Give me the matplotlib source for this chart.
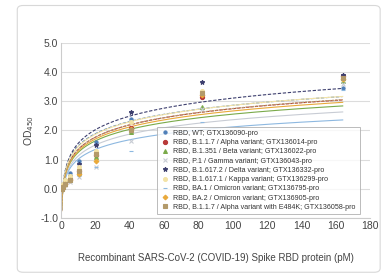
import numpy as np
import matplotlib
matplotlib.use('Agg')
import matplotlib.pyplot as plt
from matplotlib.patches import FancyBboxPatch

plt.rcParams['font.family'] = ['Liberation Sans Narrow', 'Liberation Sans', 'DejaVu Sans']

# two-fold dilution series of the RBD protein (pM)
conc = [164, 82, 41, 20.5, 10.25, 5.125, 2.5625, 1.28, 0.64, 0.32]

labels = [
    'RBD, WT; GTX136090-pro',
    'RBD, B.1.1.7 / Alpha variant; GTX136014-pro',
    'RBD, B.1.351 / Beta variant; GTX136022-pro',
    'RBD, P.1 / Gamma variant; GTX136043-pro',
    'RBD, B.1.617.2 / Delta variant; GTX136332-pro',
    'RBD, B.1.617.1 / Kappa variant; GTX136299-pro',
    'RBD, BA.1 / Omicron variant; GTX136795-pro',
    'RBD, BA.2 / Omicron variant; GTX136905-pro',
    'RBD, B.1.1.7 / Alpha variant with E484K; GTX136058-pro',
]

od_wt = [3.45, 3.3, 2.4, 1.6, 0.95, 0.55, 0.3, 0.15, 0.06, 0.02]
od_alpha = [3.85, 3.15, 2.1, 1.15, 0.6, 0.35, 0.2, 0.1, 0.05, 0.02]
od_beta = [3.7, 2.8, 1.95, 1.1, 0.55, 0.3, 0.16, 0.08, 0.03, 0.01]
od_gamma = [3.6, 2.75, 1.65, 0.75, 0.4, 0.22, 0.12, 0.05, 0.02, 0.0]
od_delta = [3.9, 3.65, 2.65, 1.5, 0.85, 0.45, 0.25, 0.12, 0.05, 0.02]
od_kappa = [3.75, 3.35, 2.3, 1.3, 0.75, 0.45, 0.3, 0.15, 0.08, 0.03]
od_ba1 = [3.4, 2.3, 1.3, 0.75, 0.45, 0.25, 0.12, 0.05, 0.02, 0.0]
od_ba2 = [3.75, 3.2, 2.05, 0.95, 0.5, 0.3, 0.15, 0.08, 0.03, 0.01]
od_e484k = [3.8, 3.3, 2.0, 1.2, 0.6, 0.3, 0.18, 0.08, 0.04, 0.01]

series = [od_wt, od_alpha, od_beta, od_gamma, od_delta, od_kappa, od_ba1, od_ba2, od_e484k]
colors = ['#4f7fb8', '#b83a3a', '#7aaa4a', '#c8ccd4', '#3d3f6e',
          '#f3e3a6', '#8db8e0', '#e9a93a', '#b39a6a']
markers = ['o', 'o', '^', 'x', '*', 'o', '_', 'D', 's']
msizes = [2.3, 3, 2.8, 2.8, 3.3, 2.8, 3.3, 2.4, 2.2]
styles = [(0, (3, 1.5)), (0, (3, 1)), '-', '-', (0, (3, 1.5)), '-', '-', '-', (0, (2, 1))]

fig = plt.figure(figsize=(3.84, 2.75), dpi=100)
fig.patches.append(FancyBboxPatch((0.045, 0.01), 0.945, 0.97,
                                  boxstyle='round,pad=0,rounding_size=0.015',
                                  transform=fig.transFigure, fc='white',
                                  ec='#d8d8d8', lw=0.8, zorder=-1))
ax = fig.add_axes([0.159, 0.207, 0.805, 0.637])
ax.patch.set_alpha(0)

x = np.array(conc)
xs = np.linspace(x.min(), x.max(), 300)
for y, c, m, ms, ls, lab in zip(series, colors, markers, msizes, styles, labels):
    y = np.array(y)
    a, b = np.polyfit(np.log(x), y, 1)
    ax.plot(xs, a * np.log(xs) + b, color=c, lw=0.8, ls=ls, zorder=2)
    ax.plot(x, y, ls='none', marker=m, ms=ms, color=c, mew=0.8, label=lab, zorder=3)

ax.set_xlim(0, 180)
ax.set_ylim(-1, 5)
ax.set_xticks(range(0, 181, 20))
ax.set_yticks(range(-1, 6))
ax.set_yticklabels([f'{v:.1f}' for v in range(-1, 6)])
ax.grid(axis='y', color='#dcdcdc', lw=0.8)
ax.set_axisbelow(True)
for s in ['top', 'right']:
    ax.spines[s].set_visible(False)
for s in ['left', 'bottom']:
    ax.spines[s].set_color('#cccccc')
    ax.spines[s].set_linewidth(0.8)
ax.tick_params(length=0, labelsize=7.5, colors='#444444', pad=2)

ax.set_xlabel('Recombinant SARS-CoV-2 (COVID-19) Spike RBD protein (pM)',
              fontsize=7, color='#444444', labelpad=16)
ax.set_ylabel('OD$_{450}$', fontsize=7.5, color='#444444', labelpad=3)

leg = ax.legend(loc='lower left', bbox_to_anchor=(0.311, 0.023, 0.655, 0.44),
                mode='expand', fontsize=5.1, frameon=True, fancybox=False,
                borderpad=0.45, labelspacing=0.32, handlelength=1.2,
                handletextpad=0.6, borderaxespad=0)
leg.get_frame().set_edgecolor('#aaaaaa')
leg.get_frame().set_linewidth(0.7)
for t in leg.get_texts():
    t.set_color('#333333')

fig.savefig('out.png', dpi=100)
